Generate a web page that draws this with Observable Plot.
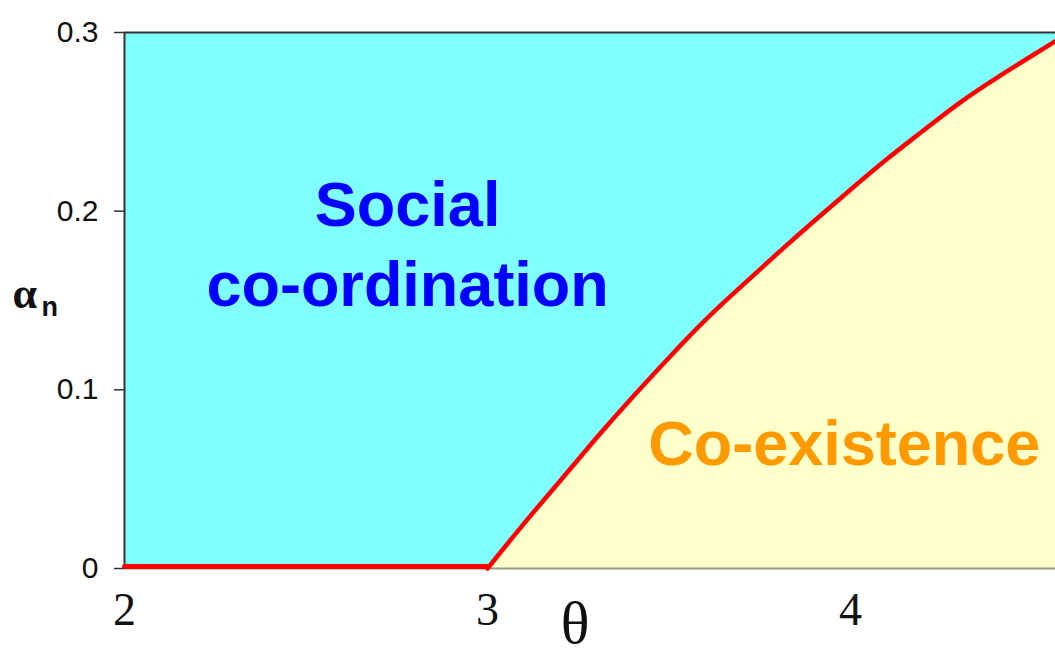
<!DOCTYPE html>
<html>
<head>
<meta charset="utf-8">
<script src="https://cdn.jsdelivr.net/npm/d3@7"></script>
<script src="https://cdn.jsdelivr.net/npm/@observablehq/plot@0.6"></script>
<style>
  html, body { margin: 0; padding: 0; background: #fff; }
  #chart svg { display: block; }
</style>
</head>
<body>
<div id="chart"></div>
<script>
// Boundary between the two regimes (theta, alpha_n)
const theta  = [2, 3, 3.1, 3.2, 3.3, 3.4, 3.5, 3.6, 3.7, 3.8, 3.9, 4.0, 4.1, 4.2, 4.3, 4.4, 4.5, 4.565];
const alphaN = [0, 0, 0.025, 0.049, 0.073, 0.096, 0.118, 0.139, 0.158, 0.1765, 0.1945, 0.212, 0.229, 0.245, 0.2605, 0.2742, 0.287, 0.2952];

const xDomain = [2, 4.565];
const yDomain = [0, 0.3];
const xTicks = [2, 3, 4];
const yTicks = [0, 0.1, 0.2, 0.3];

const regionLabels = [
  {text: "Social",        theta: 2.78,  alpha: 0.2032, color: "#0000FF"},
  {text: "co-ordination", theta: 2.78,  alpha: 0.1584, color: "#0000FF"},
  {text: "Co-existence",  theta: 3.983, alpha: 0.0691, color: "#FF9900"}
];

const boundary = theta.map((t, i) => ({theta: t, alpha: alphaN[i]}));
const flat = boundary.filter(d => d.theta <= 3);
const curved = boundary.filter(d => d.theta >= 3);

const chart = Plot.plot({
  width: 1055,
  height: 660,
  marginTop: 32,
  marginRight: 0,
  marginBottom: 92,
  marginLeft: 124,
  style: {fontFamily: "'Liberation Sans', Arial, sans-serif", background: "#fff"},
  x: {domain: xDomain},
  y: {domain: yDomain},
  marks: [
    // whole diagram background: Social co-ordination region
    Plot.areaY(boundary, {x: "theta", y1: () => yDomain[0], y2: () => yDomain[1], fill: "#80FFFF"}),
    // Co-existence region (below the boundary)
    Plot.areaY(curved, {x: "theta", y1: () => yDomain[0], y2: "alpha", fill: "#FFFFCC", curve: "natural"}),
    Plot.ruleY([yDomain[0]], {stroke: "#9a9a80", strokeWidth: 2}),
    Plot.ruleY([yDomain[1]], {stroke: "#333", strokeWidth: 2}),
    Plot.ruleX([xDomain[0]], {stroke: "#333", strokeWidth: 2}),
    // boundary line
    Plot.line(flat, {x: "theta", y: "alpha", stroke: "#FF0000", strokeWidth: 5, dy: -2}),
    Plot.line(curved, {x: "theta", y: "alpha", stroke: "#FF0000", strokeWidth: 4.5, curve: "natural"}),
    // axes
    Plot.axisY({ticks: yTicks, tickSize: 10, tickPadding: 16, fontSize: 30, stroke: "#333", strokeWidth: 1.5,
      fill: "#111", label: null, tickFormat: d => d === 0 ? "0" : d.toFixed(1)}),
    Plot.axisX({ticks: xTicks, tickSize: 0, tickPadding: 24, fontSize: 46, fill: "#111", label: null,
      tickFormat: d => String(d),
      fontFamily: "'Liberation Serif', 'Times New Roman', serif"}),
    // axis titles
    Plot.text(["θ"], {frameAnchor: "bottom", textAnchor: "middle", dx: -15, dy: 74, fontSize: 60, fill: "#111",
      fontFamily: "'Liberation Serif', 'Times New Roman', serif"}),
    Plot.text(["α"], {frameAnchor: "left", textAnchor: "start", dx: -112, dy: -6.5, fontSize: 44, fontWeight: "bold",
      fill: "#111", fontFamily: "'Liberation Serif', serif"}),
    Plot.text(["n"], {frameAnchor: "left", textAnchor: "start", dx: -83, dy: 6.5, fontSize: 27, fontWeight: "bold", fill: "#111"}),
    // region labels
    Plot.text(regionLabels, {x: "theta", y: "alpha", text: "text", fill: "color", fontSize: 63, fontWeight: "bold"})
  ]
});

document.getElementById("chart").appendChild(chart);
</script>
</body>
</html>
